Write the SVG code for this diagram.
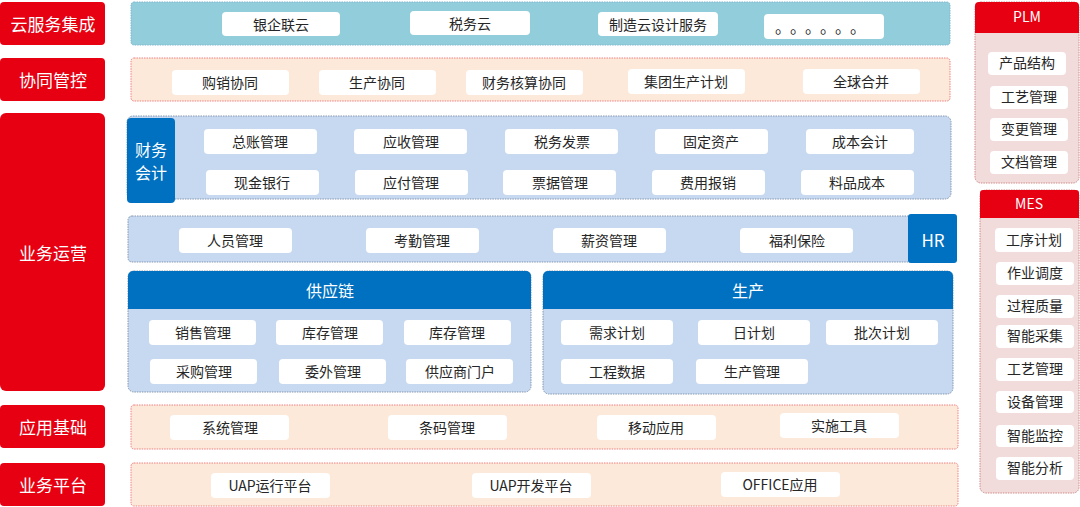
<svg xmlns="http://www.w3.org/2000/svg" width="1080" height="507" viewBox="0 0 1080 507">
<style>
text{font-family:"Microsoft YaHei","Noto Sans CJK SC","Noto Sans",sans-serif;text-anchor:middle;dominant-baseline:central}
.red{fill:#E60012}
.lbl{fill:#fff;font-size:17px}
.it{fill:#fff}
.t{fill:#262626;font-size:14px}
.peach{fill:#FDE9D9;stroke:#F08080;stroke-width:1;stroke-dasharray:1.5 1}
.blue{fill:#C6D9F1;stroke:#8497B0;stroke-width:1;stroke-dasharray:1.5 1}
.cloud{fill:#92CDDC;stroke:#7FB8CC;stroke-width:1;stroke-dasharray:1.5 1}
.pink{fill:#F2DCDB;stroke:#D08A8A;stroke-width:1;stroke-dasharray:1.5 1}
.hdr{fill:#0070C0}
.wt{fill:#fff;font-size:16px}
</style>
<g id="layer-cloud">
<rect class="red" x="0" y="2" width="105" height="43" rx="4"/>
<text class="lbl" x="53" y="23">云服务集成</text>
<rect class="cloud" x="131" y="2" width="819" height="43" rx="3"/>
<rect class="it" x="222" y="12" width="118" height="24" rx="4"/><text class="t" x="281" y="24">银企联云</text>
<rect class="it" x="410" y="11" width="120" height="24" rx="4"/><text class="t" x="470" y="23">税务云</text>
<rect class="it" x="598" y="12" width="120" height="24" rx="4"/><text class="t" x="658" y="24">制造云设计服务</text>
<rect class="it" x="764" y="14" width="120" height="25" rx="4"/><text class="t" x="824" y="26" style="font-size:16px;letter-spacing:7px">。。。。。。</text>
</g>
<g id="layer-collab">
<rect class="red" x="0" y="58" width="105" height="43" rx="4"/>
<text class="lbl" x="53" y="79">协同管控</text>
<rect class="peach" x="131" y="58" width="819" height="43" rx="3"/>
<rect class="it" x="172" y="70" width="117" height="25" rx="4"/><text class="t" x="230" y="82">购销协同</text>
<rect class="it" x="319" y="70" width="117" height="25" rx="4"/><text class="t" x="377" y="82">生产协同</text>
<rect class="it" x="466" y="70" width="117" height="25" rx="4"/><text class="t" x="524" y="82">财务核算协同</text>
<rect class="it" x="628" y="69" width="117" height="25" rx="4"/><text class="t" x="686" y="81">集团生产计划</text>
<rect class="it" x="803" y="69" width="117" height="25" rx="4"/><text class="t" x="861" y="81">全球合并</text>
</g>
<g id="layer-ops">
<rect class="red" x="0" y="113" width="105" height="278" rx="6"/>
<text class="lbl" x="53" y="252">业务运营</text>
</g>
<g id="finance">
<rect class="blue" x="127" y="116" width="824" height="83" rx="6"/>
<rect class="hdr" x="127" y="118" width="48" height="85" rx="4"/>
<text class="wt" x="151" y="149"><tspan x="151" y="149">财务</tspan><tspan x="151" y="172">会计</tspan></text>
<rect class="it" x="204" y="129" width="113" height="25" rx="4"/><text class="t" x="260" y="141">总账管理</text>
<rect class="it" x="354" y="129" width="113" height="25" rx="4"/><text class="t" x="411" y="141">应收管理</text>
<rect class="it" x="505" y="129" width="113" height="25" rx="4"/><text class="t" x="562" y="141">税务发票</text>
<rect class="it" x="655" y="129" width="113" height="25" rx="4"/><text class="t" x="711" y="141">固定资产</text>
<rect class="it" x="806" y="129" width="108" height="25" rx="4"/><text class="t" x="860" y="141">成本会计</text>
<rect class="it" x="206" y="170" width="113" height="25" rx="4"/><text class="t" x="262" y="182">现金银行</text>
<rect class="it" x="355" y="170" width="113" height="25" rx="4"/><text class="t" x="411" y="182">应付管理</text>
<rect class="it" x="503" y="170" width="113" height="25" rx="4"/><text class="t" x="560" y="182">票据管理</text>
<rect class="it" x="652" y="170" width="113" height="25" rx="4"/><text class="t" x="708" y="182">费用报销</text>
<rect class="it" x="801" y="170" width="113" height="25" rx="4"/><text class="t" x="857" y="182">料品成本</text>
</g>
<g id="hr">
<rect class="blue" x="128" y="216" width="796" height="46" rx="4"/>
<rect class="hdr" x="908" y="214" width="49" height="49" rx="3"/>
<text class="wt" x="933" y="239" style="font-size:17px">HR</text>
<rect class="it" x="179" y="228" width="113" height="25" rx="4"/><text class="t" x="235" y="240">人员管理</text>
<rect class="it" x="366" y="228" width="113" height="25" rx="4"/><text class="t" x="422" y="240">考勤管理</text>
<rect class="it" x="553" y="228" width="113" height="25" rx="4"/><text class="t" x="609" y="240">薪资管理</text>
<rect class="it" x="740" y="228" width="113" height="25" rx="4"/><text class="t" x="797" y="240">福利保险</text>
</g>
<g id="supply">
<rect class="blue" x="128" y="271" width="403" height="121" rx="6"/>
<path class="hdr" d="M128,309 V276 a5,5 0 0 1 5,-5 H526 a5,5 0 0 1 5,5 V309 Z"/>
<text class="wt" x="330" y="290">供应链</text>
<rect class="it" x="149" y="320" width="107" height="25" rx="4"/><text class="t" x="203" y="332">销售管理</text>
<rect class="it" x="276" y="320" width="107" height="25" rx="4"/><text class="t" x="330" y="332">库存管理</text>
<rect class="it" x="404" y="320" width="107" height="25" rx="4"/><text class="t" x="457" y="332">库存管理</text>
<rect class="it" x="150" y="359" width="107" height="25" rx="4"/><text class="t" x="204" y="371">采购管理</text>
<rect class="it" x="279" y="359" width="107" height="25" rx="4"/><text class="t" x="333" y="371">委外管理</text>
<rect class="it" x="406" y="359" width="107" height="25" rx="4"/><text class="t" x="460" y="371">供应商门户</text>
</g>
<g id="production">
<rect class="blue" x="543" y="271" width="410" height="123" rx="6"/>
<path class="hdr" d="M543,309 V276 a5,5 0 0 1 5,-5 H948 a5,5 0 0 1 5,5 V309 Z"/>
<text class="wt" x="748" y="290">生产</text>
<rect class="it" x="561" y="320" width="112" height="25" rx="4"/><text class="t" x="617" y="332">需求计划</text>
<rect class="it" x="698" y="320" width="112" height="25" rx="4"/><text class="t" x="754" y="332">日计划</text>
<rect class="it" x="826" y="320" width="112" height="25" rx="4"/><text class="t" x="882" y="332">批次计划</text>
<rect class="it" x="561" y="359" width="112" height="25" rx="4"/><text class="t" x="617" y="371">工程数据</text>
<rect class="it" x="696" y="359" width="112" height="25" rx="4"/><text class="t" x="752" y="371">生产管理</text>
</g>
<g id="layer-base">
<rect class="red" x="0" y="405" width="105" height="43" rx="4"/>
<text class="lbl" x="53" y="426">应用基础</text>
<rect class="peach" x="131" y="405" width="827" height="44" rx="3"/>
<rect class="it" x="170" y="415" width="119" height="25" rx="4"/><text class="t" x="230" y="427">系统管理</text>
<rect class="it" x="388" y="415" width="119" height="25" rx="4"/><text class="t" x="447" y="427">条码管理</text>
<rect class="it" x="597" y="415" width="119" height="25" rx="4"/><text class="t" x="656" y="427">移动应用</text>
<rect class="it" x="780" y="413" width="119" height="25" rx="4"/><text class="t" x="839" y="425">实施工具</text>
</g>
<g id="layer-platform">
<rect class="red" x="0" y="463" width="105" height="43" rx="4"/>
<text class="lbl" x="53" y="484">业务平台</text>
<rect class="peach" x="131" y="463" width="827" height="43" rx="3"/>
<rect class="it" x="211" y="473" width="119" height="25" rx="4"/><text class="t" x="270" y="485">UAP运行平台</text>
<rect class="it" x="472" y="473" width="119" height="25" rx="4"/><text class="t" x="531" y="485">UAP开发平台</text>
<rect class="it" x="721" y="472" width="119" height="25" rx="4"/><text class="t" x="780" y="484">OFFICE应用</text>
</g>
<g id="plm">
<rect class="pink" x="975" y="2" width="104" height="181" rx="6"/>
<path class="red" d="M975,33 V6 a4,4 0 0 1 4,-4 H1075 a4,4 0 0 1 4,4 V33 Z"/>
<text fill="#fff" font-size="14" x="1027" y="16">PLM</text>
<rect class="it" x="988" y="52" width="78" height="23" rx="4"/><text class="t" x="1027" y="62">产品结构</text>
<rect class="it" x="990" y="86" width="78" height="23" rx="4"/><text class="t" x="1029" y="96">工艺管理</text>
<rect class="it" x="990" y="118" width="78" height="23" rx="4"/><text class="t" x="1029" y="128">变更管理</text>
<rect class="it" x="990" y="151" width="78" height="23" rx="4"/><text class="t" x="1029" y="161">文档管理</text>
</g>
<g id="mes">
<rect class="pink" x="980" y="190" width="99" height="303" rx="6"/>
<path class="red" d="M980,218 V193 a3,3 0 0 1 3,-3 H1076 a3,3 0 0 1 3,3 V218 Z"/>
<text fill="#fff" font-size="14" x="1029" y="203">MES</text>
<rect class="it" x="995" y="228" width="78" height="24" rx="4"/><text class="t" x="1034" y="239">工序计划</text>
<rect class="it" x="996" y="262" width="78" height="23" rx="4"/><text class="t" x="1035" y="272">作业调度</text>
<rect class="it" x="996" y="295" width="78" height="23" rx="4"/><text class="t" x="1035" y="305">过程质量</text>
<rect class="it" x="996" y="325" width="78" height="23" rx="4"/><text class="t" x="1035" y="335">智能采集</text>
<rect class="it" x="996" y="358" width="78" height="23" rx="4"/><text class="t" x="1035" y="368">工艺管理</text>
<rect class="it" x="996" y="391" width="78" height="22" rx="4"/><text class="t" x="1035" y="401">设备管理</text>
<rect class="it" x="996" y="425" width="78" height="22" rx="4"/><text class="t" x="1035" y="435">智能监控</text>
<rect class="it" x="996" y="457" width="78" height="23" rx="4"/><text class="t" x="1035" y="467">智能分析</text>
</g>
<g id="connectors"/>
</svg>
